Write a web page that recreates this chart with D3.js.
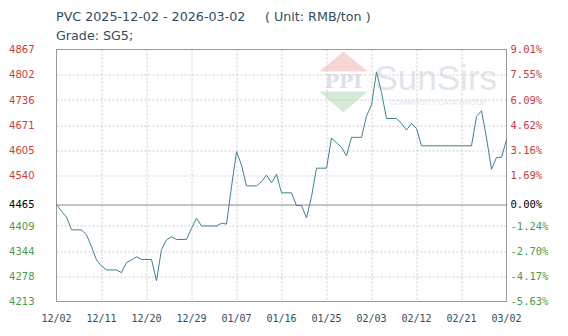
<!DOCTYPE html>
<html>
<head>
<meta charset="utf-8">
<script src="https://cdn.jsdelivr.net/npm/d3@7"></script>
<style>
  body { margin: 0; background: #fff; }
  svg { display: block; }
</style>
</head>
<body>
<svg id="drawing_region"></svg>
<script>
// price series (date, RMB/ton)
const dates = [
    '2025-12-02', '2025-12-03', '2025-12-04', '2025-12-05', '2025-12-07', '2025-12-08',
    '2025-12-09', '2025-12-10', '2025-12-11', '2025-12-12', '2025-12-14', '2025-12-15',
    '2025-12-16', '2025-12-17', '2025-12-18', '2025-12-19', '2025-12-21', '2025-12-22',
    '2025-12-23', '2025-12-24', '2025-12-25', '2025-12-26', '2025-12-28', '2025-12-29',
    '2025-12-30', '2025-12-31', '2026-01-03', '2026-01-04', '2026-01-05', '2026-01-06',
    '2026-01-07', '2026-01-08', '2026-01-09', '2026-01-11', '2026-01-12', '2026-01-13',
    '2026-01-14', '2026-01-15', '2026-01-16', '2026-01-18', '2026-01-19', '2026-01-20',
    '2026-01-21', '2026-01-22', '2026-01-23', '2026-01-25', '2026-01-26', '2026-01-27',
    '2026-01-28', '2026-01-29', '2026-01-30', '2026-02-01', '2026-02-02', '2026-02-03',
    '2026-02-04', '2026-02-05', '2026-02-06', '2026-02-08', '2026-02-09', '2026-02-10',
    '2026-02-11', '2026-02-12', '2026-02-13', '2026-02-23', '2026-02-24', '2026-02-25',
    '2026-02-26', '2026-02-27', '2026-02-28', '2026-03-01', '2026-03-02'
];
const prices = [
    4465, 4447, 4432, 4399, 4399, 4386,
    4355, 4321, 4305, 4295, 4295, 4288,
    4314, 4321, 4329, 4322, 4322, 4267,
    4348, 4373, 4381, 4374, 4374, 4403,
    4429, 4409, 4409, 4416, 4414, 4511,
    4602, 4567, 4513, 4513, 4524, 4541,
    4521, 4543, 4495, 4495, 4462, 4462,
    4430, 4485, 4559, 4559, 4637, 4625,
    4613, 4591, 4639, 4639, 4694, 4723,
    4809, 4755, 4688, 4688, 4675, 4658,
    4675, 4662, 4617, 4617, 4693, 4708,
    4637, 4556, 4587, 4587, 4632
];

const basePrice = 4465;
const yTicks = [4213, 4278, 4344, 4409, 4465, 4540, 4605, 4671, 4736, 4802, 4867];
const pctLabels = ['-5.63%', '-4.17%', '-2.70%', '-1.24%', '0.00%', '1.69%', '3.16%', '4.62%', '6.09%', '7.55%', '9.01%'];
const xTickDates = ['2025-12-02', '2025-12-11', '2025-12-20', '2025-12-29', '2026-01-07', '2026-01-16',
                    '2026-01-25', '2026-02-03', '2026-02-12', '2026-02-21', '2026-03-02'];

const parse = d3.timeParse('%Y-%m-%d');
const data = dates.map((d, i) => ({ date: parse(d), value: prices[i] }));

const width = 568;
const height = 336;
const margin = { top: 49.5, right: 61.5, bottom: 34.5, left: 56.5 };
const inner_width = width - margin.left - margin.right;
const inner_height = height - margin.top - margin.bottom;

const red = '#c83c3c';
const green = '#4a9a4a';
const colorFor = v => v > basePrice ? red : (v < basePrice ? green : '#000');

const svg = d3.select('#drawing_region')
    .attr('width', width)
    .attr('height', height);

// titles
svg.append('text')
    .attr('x', 56)
    .attr('y', 21)
    .attr('font-family', 'DejaVu Sans, Verdana, sans-serif')
    .attr('font-size', '12.7px')
    .attr('fill', '#2f4d5c')
    .text('PVC 2025-12-02 - 2026-03-02');

svg.append('text')
    .attr('x', 265)
    .attr('y', 21)
    .attr('font-family', 'DejaVu Sans, Verdana, sans-serif')
    .attr('font-size', '12.7px')
    .attr('fill', '#2f4d5c')
    .text('( Unit: RMB/ton )');

svg.append('text')
    .attr('x', 56)
    .attr('y', 40)
    .attr('font-family', 'DejaVu Sans, Verdana, sans-serif')
    .attr('font-size', '12.7px')
    .attr('fill', '#2f4d5c')
    .text('Grade: SG5;');

const chart = svg.append('g')
    .attr('transform', `translate(${margin.left}, ${margin.top})`);

const xscale = d3.scaleTime()
    .domain([parse(xTickDates[0]), parse(xTickDates[xTickDates.length - 1])])
    .range([0, inner_width]);

const yscale = d3.scaleLinear()
    .domain([yTicks[0], yTicks[yTicks.length - 1]])
    .range([inner_height, 0]);

// watermark
const wm = chart.append('g')
    .attr('opacity', 0.26);
wm.append('path')
    .attr('d', 'M263,22 L287,2 L311,22 Z')
    .attr('fill', '#e06060');
wm.append('path')
    .attr('d', 'M263,42 L311,42 L287,63 Z')
    .attr('fill', '#60b060');
wm.append('text')
    .attr('x', 287)
    .attr('y', 38)
    .attr('text-anchor', 'middle')
    .attr('font-family', 'DejaVu Serif, serif')
    .attr('font-size', '19px')
    .attr('font-weight', 'bold')
    .attr('fill', '#7a8aa8')
    .text('PPI');
wm.append('text')
    .attr('x', 318)
    .attr('y', 40)
    .attr('font-family', 'Liberation Sans, Arial, sans-serif')
    .attr('font-size', '35px')
    .attr('fill', '#8a9ab5')
    .text('SunSirs');
wm.append('text')
    .attr('x', 375 - margin.left + 63)
    .attr('y', 55)
    .attr('text-anchor', 'middle')
    .attr('font-family', 'Liberation Sans, Arial, sans-serif')
    .attr('font-size', '7.5px')
    .attr('fill', '#8a9ab5')
    .text('COMMODITY DATA GROUP');

// grid
chart.append('g')
    .selectAll('line')
    .data(yTicks.filter(v => v !== basePrice && v !== yTicks[0] && v !== yTicks[yTicks.length - 1]))
    .enter()
    .append('line')
    .attr('x1', 0)
    .attr('x2', inner_width)
    .attr('y1', d => Math.round(yscale(d)) + 0.5)
    .attr('y2', d => Math.round(yscale(d)) + 0.5)
    .attr('stroke', '#cccccc')
    .attr('stroke-dasharray', '2,2');

chart.append('g')
    .selectAll('line')
    .data(xTickDates.slice(1, -1))
    .enter()
    .append('line')
    .attr('x1', d => Math.round(xscale(parse(d))) + 0.5)
    .attr('x2', d => Math.round(xscale(parse(d))) + 0.5)
    .attr('y1', 0)
    .attr('y2', inner_height)
    .attr('stroke', '#cccccc')
    .attr('stroke-dasharray', '2,2');

// frame
chart.append('rect')
    .attr('x', 0)
    .attr('y', 0)
    .attr('width', inner_width)
    .attr('height', inner_height)
    .attr('fill', 'none')
    .attr('stroke', '#999999');

// base line
chart.append('line')
    .attr('x1', 0)
    .attr('x2', inner_width)
    .attr('y1', Math.round(yscale(basePrice)) + 0.5)
    .attr('y2', Math.round(yscale(basePrice)) + 0.5)
    .attr('stroke', '#888888');

// price line
const line = d3.line()
    .x(d => xscale(d.date))
    .y(d => yscale(d.value));

chart.append('path')
    .datum(data)
    .attr('d', line)
    .attr('fill', 'none')
    .attr('stroke', '#3f8193')
    .attr('stroke-width', 1);

// left axis labels
chart.append('g')
    .selectAll('text')
    .data(yTicks)
    .enter()
    .append('text')
    .attr('x', -22)
    .attr('y', d => yscale(d))
    .attr('dy', '0.36em')
    .attr('text-anchor', 'end')
    .attr('font-family', 'DejaVu Sans, Verdana, sans-serif')
    .attr('font-size', '10px')
    .attr('fill', d => colorFor(d))
    .text(d => d);

// right axis labels
chart.append('g')
    .selectAll('text')
    .data(yTicks)
    .enter()
    .append('text')
    .attr('x', inner_width + 4)
    .attr('y', d => yscale(d))
    .attr('dy', '0.36em')
    .attr('font-family', 'DejaVu Sans Mono, monospace')
    .attr('font-size', '10.5px')
    .attr('fill', d => colorFor(d))
    .text((d, i) => pctLabels[i]);

// x axis labels
chart.append('g')
    .selectAll('text')
    .data(xTickDates)
    .enter()
    .append('text')
    .attr('x', d => xscale(parse(d)))
    .attr('y', inner_height + 20)
    .attr('text-anchor', 'middle')
    .attr('font-family', 'DejaVu Sans Mono, monospace')
    .attr('font-size', '10px')
    .attr('fill', '#2f4d5c')
    .text(d => d3.timeFormat('%m/%d')(parse(d)));
</script>
</body>
</html>
